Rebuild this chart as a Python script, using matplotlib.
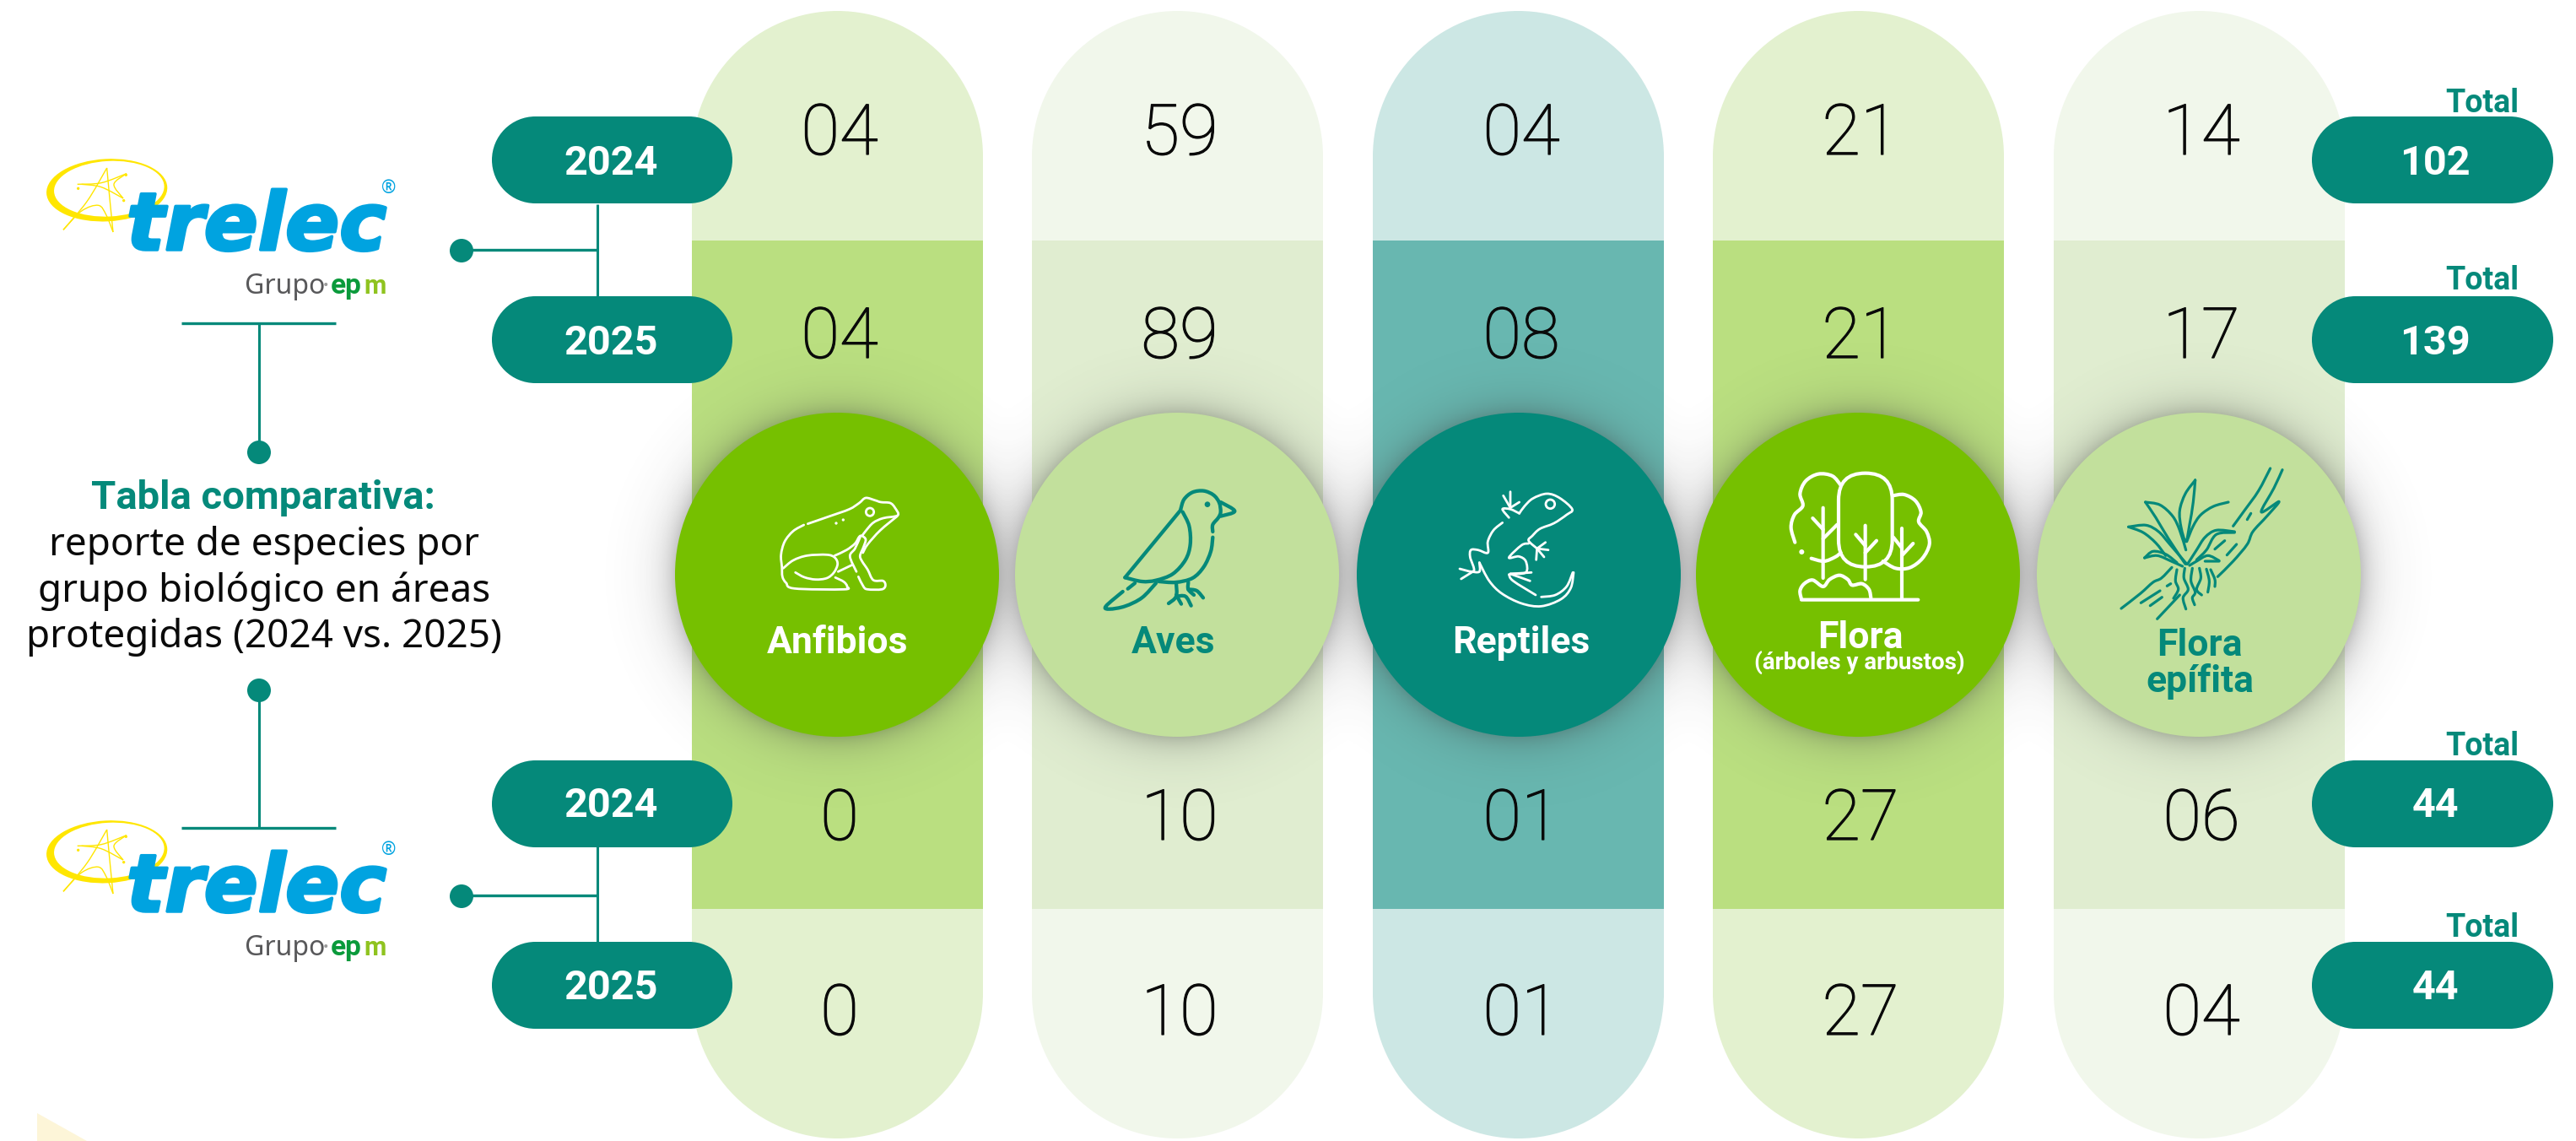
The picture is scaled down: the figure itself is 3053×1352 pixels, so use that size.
#!/usr/bin/env python3
"""Tabla comparativa: especies por grupo biologico en areas protegidas."""

import numpy as np
import matplotlib
matplotlib.use("Agg")
import matplotlib.pyplot as plt
import matplotlib.patheffects as pe
from matplotlib.path import Path
from matplotlib.patches import Circle, Ellipse, FancyBboxPatch, PathPatch, Polygon, Rectangle

W, H = 3053, 1352

TEAL = "#05897A"
GREEN = "#76C000"
PALE = "#C2E09C"
BLACK = "#0A0A0A"

GROUPS = ["Anfibios", "Aves", "Reptiles", "Flora", "Flora epífita"]
YEARS = ["2024", "2025", "2024", "2025"]
AREA1_2024 = ["04", "59", "04", "21", "14"]
AREA1_2025 = ["04", "89", "08", "21", "17"]
AREA2_2024 = ["0", "10", "01", "27", "06"]
AREA2_2025 = ["0", "10", "01", "27", "04"]
TOTALS = ["102", "139", "44", "44"]
ROWS = [AREA1_2024, AREA1_2025, AREA2_2024, AREA2_2025]

COL_LEFT = [820, 1223, 1627, 2030, 2434]
COL_W = 345
CIRCLE_X = [992, 1395, 1800, 2202, 2606]
CIRCLE_Y = 681
CIRCLE_R = 192
LIGHT = ["#E3F1CF", "#F1F7EB", "#CCE7E4", "#E3F1CF", "#F1F7EB"]
MID = ["#BADF80", "#E0EDD0", "#68B7B0", "#BADF80", "#E0EDD0"]
DISC = [GREEN, PALE, TEAL, GREEN, PALE]

ROW_BASE = [183, 424, 995, 1226]
PILL_TOP = [138, 351, 901, 1116]
PILL_BASE = [207, 420, 968, 1184]
TOTAL_BASE = [133, 343, 895, 1110]

plt.rcParams["font.family"] = ["Noto Sans", "DejaVu Sans"]

fig = plt.figure(figsize=(W / 100, H / 100), dpi=100, facecolor="white")
ax = fig.add_axes([0, 0, 1, 1])


def curve(pts, origin, closed=False, scale=3.0):
    """Smooth line through zoomed icon points (Catmull-Rom to bezier)."""
    p = np.array(pts, dtype=float) / scale + np.array(origin)
    if closed:
        p = np.vstack([p, p[0]])
    verts = [p[0]]
    codes = [Path.MOVETO]
    n = len(p)
    for i in range(n - 1):
        p0 = p[i - 1] if i > 0 else p[i]
        p1, p2 = p[i], p[i + 1]
        p3 = p[i + 2] if i + 2 < n else p[i + 1]
        verts += [p1 + (p2 - p0) / 6, p2 - (p3 - p1) / 6, p2]
        codes += [Path.CURVE4] * 3
    return Path(verts, codes)


def icon(paths, origin, color, lw):
    for pts in paths:
        ax.add_patch(PathPatch(curve(pts, origin), fc="none", ec=color, lw=lw,
                               capstyle="round", joinstyle="round", zorder=8))


def dot(x, y, r, origin, color, ring=None):
    c = (origin[0] + x / 3, origin[1] + y / 3)
    if ring:
        ax.add_patch(Circle(c, r / 3, fc="none", ec=color, lw=ring, zorder=8))
    else:
        ax.add_patch(Circle(c, r / 3, fc=color, ec="none", zorder=8))


def capsule(x0, y0, w, h, color, zorder):
    """Rectangle with true half circles on its two short sides."""
    r = min(w, h) / 2
    if w > h:
        ax.add_patch(Rectangle((x0 + r, y0), w - 2 * r, h, fc=color, ec="none", zorder=zorder))
        ends = [(x0 + r, y0 + r), (x0 + w - r, y0 + r)]
    else:
        ax.add_patch(Rectangle((x0, y0 + r), w, h - 2 * r, fc=color, ec="none", zorder=zorder))
        ends = [(x0 + r, y0 + r), (x0 + r, y0 + h - r)]
    for c in ends:
        ax.add_patch(Circle(c, r, fc=color, ec="none", zorder=zorder))


def label(x, y, s, size, color, weight="normal", **kw):
    if weight == "bold" and "family" not in kw:
        kw["family"] = ["Roboto", "DejaVu Sans"]
    return ax.text(x, y, s, fontsize=size, color=color, fontweight=weight,
                   ha=kw.pop("ha", "center"), va="baseline", zorder=kw.pop("zorder", 9), **kw)


# Columns
for i in range(5):
    capsule(COL_LEFT[i], 13, COL_W, 1336, LIGHT[i], 1)
    ax.add_patch(Rectangle((COL_LEFT[i], 285), COL_W, 792, fc=MID[i], ec="none", zorder=2))

# Soft shadows behind the discs, all under the discs themselves
yy, xx = np.mgrid[0:H, 0:W]
alpha = np.zeros((H, W))
for cx in CIRCLE_X:
    d = np.hypot(xx - cx, yy - CIRCLE_Y) - CIRCLE_R
    a = 0.28 * np.exp(-np.clip(d, 0, None) / 18.0) + 0.015 * np.clip(1 - d / 90.0, 0, 1)
    alpha = 1 - (1 - alpha) * (1 - a)
shadow = np.zeros((H, W, 4))
shadow[..., :3] = 0.22
shadow[..., 3] = alpha
ax.imshow(shadow, extent=(0, W, H, 0), zorder=3, interpolation="bilinear")

for i in range(5):
    ax.add_patch(Circle((CIRCLE_X[i], CIRCLE_Y), CIRCLE_R, fc=DISC[i], ec="none", zorder=4))

# Values
for base, row in zip(ROW_BASE, ROWS):
    for i, val in enumerate(row):
        t = label(CIRCLE_X[i] + 3, base, val, 60, BLACK, weight="light", zorder=5,
                  family=["Roboto", "DejaVu Sans"])
        t.set_path_effects([pe.withStroke(linewidth=0.9, foreground=BLACK)])

# Year and total pills
for k in range(4):
    capsule(583, PILL_TOP[k], 285, 103, TEAL, 6)
    label(724, PILL_BASE[k], YEARS[k], 35, "white", weight="bold", zorder=7)
    capsule(2740, PILL_TOP[k], 286, 103, TEAL, 6)
    label(2886, PILL_BASE[k], TOTALS[k], 35, "white", weight="bold", zorder=7)
    label(2985, TOTAL_BASE[k], "Total", 27, TEAL, weight="bold", ha="right")

# Group names
label(993, 774, "Anfibios", 32, "white", weight="bold")
label(1391, 774, "Aves", 32, TEAL, weight="bold")
label(1803, 774, "Reptiles", 32, "white", weight="bold")
label(2205, 768, "Flora", 32, "white", weight="bold")
label(2204, 793, "(árboles y arbustos)", 20, "white", weight="bold")
label(2607, 777, "Flora", 32, TEAL, weight="bold")
label(2607, 820, "epífita", 32, TEAL, weight="bold")

# Side caption
label(312, 603, "Tabla comparativa:", 34, TEAL, weight="bold")
label(313, 658, "reporte de especies por", 33, BLACK)
label(313, 713, "grupo biológico en áreas", 33, BLACK)
label(313, 767, "protegidas (2024 vs. 2025)", 33, BLACK)

# Connectors
for y0, y1, yh in [(242, 351, 296), (1003, 1116, 1061)]:
    ax.plot([708, 708], [y0, y1], color=TEAL, lw=2.2, solid_capstyle="butt", zorder=5)
    ax.plot([547, 708], [yh, yh], color=TEAL, lw=2.4, solid_capstyle="butt", zorder=5)
    ax.add_patch(Circle((547, yh + 1), 14, fc=TEAL, ec="none", zorder=5))
ax.plot([215, 398], [383, 383], color=TEAL, lw=2.4, solid_capstyle="butt", zorder=5)
ax.plot([307, 307], [383, 536], color=TEAL, lw=2.2, solid_capstyle="butt", zorder=5)
ax.add_patch(Circle((307, 536), 14, fc=TEAL, ec="none", zorder=5))
ax.plot([215, 398], [981, 981], color=TEAL, lw=2.4, solid_capstyle="butt", zorder=5)
ax.plot([307, 307], [818, 981], color=TEAL, lw=2.2, solid_capstyle="butt", zorder=5)
ax.add_patch(Circle((307, 818), 14, fc=TEAL, ec="none", zorder=5))

# Corner triangle
ax.add_patch(Polygon([(44, 1319), (44, 1352), (103, 1352)], fc="#FDF5D8", ec="none", zorder=1))


def logo(dy):
    org = (40, 175 + dy)
    yellow = "#FFE600"
    ax.add_patch(Ellipse((org[0] + 260 / 3, org[1] + 151 / 3), 430 / 3, 222 / 3, angle=-3,
                         fc=yellow, ec="none", zorder=5))
    ax.add_patch(Ellipse((org[0] + 268 / 3, org[1] + 146 / 3), 392 / 3, 197 / 3, angle=-3,
                         fc="white", ec="none", zorder=5))
    star = [
        [(260, 72), (270, 180), (282, 300)],
        [(260, 72), (190, 190), (105, 292)],
        [(155, 130), (240, 125), (330, 92)],
        [(330, 92), (285, 130), (318, 180)],
        [(170, 130), (240, 140), (318, 180)],
        [(105, 292), (170, 225), (230, 205), (258, 240), (282, 300)],
    ]
    for pts in star:
        ax.add_patch(PathPatch(curve(pts, org), fc="none", ec=yellow, lw=1.0, zorder=5))
    for x, y in [(158, 145), (328, 97), (320, 188)]:
        dot(x, y, 5, org, yellow)
    t = ax.text(150, 296 + dy, "trelec", fontsize=68, fontweight="bold", style="italic",
                family=["DejaVu Sans"], color="#00A3E0", ha="left", va="baseline", zorder=6)
    t.set_path_effects([pe.withStroke(linewidth=2.5, foreground="#00A3E0")])
    label(461, 229 + dy, "®", 15, "#00A3E0")
    label(290, 348 + dy, "Grupo", 23, "#58585A", ha="left")
    label(386, 348 + dy, "·", 23, "#9A9A9A")
    label(392, 348 + dy, "ep", 24, "#0A9A3B", weight="bold", ha="left")
    label(431, 348 + dy, "m", 22, "#8FC31F", weight="bold", ha="left")


logo(0)
logo(784)

# Icons in crop pixels
FROG = [
    [(172, 152), (250, 125), (320, 100), (355, 78), (378, 60), (410, 68), (432, 75), (465, 78),
     (482, 95), (492, 122), (440, 132), (405, 148), (380, 175), (365, 195)],
    [(158, 156), (120, 178), (90, 215), (77, 262), (80, 305), (82, 340), (95, 362), (125, 382),
     (300, 385), (312, 375), (300, 358), (270, 343)],
    [(85, 310), (120, 282), (170, 265), (240, 262), (268, 272), (278, 295), (265, 325), (240, 345),
     (200, 350), (160, 342), (128, 325)],
    [(268, 265), (310, 245), (340, 222), (355, 198), (365, 195), (378, 208), (370, 235), (358, 265),
     (365, 285), (385, 315), (405, 352), (440, 355), (448, 372), (435, 385), (385, 385), (370, 375),
     (352, 340)],
    [(358, 200), (340, 240), (322, 268), (345, 322)],
    [(490, 125), (430, 175), (385, 225), (368, 255)],
    [(280, 322), (330, 298)],
]
icon(FROG, (900, 570), "white", 2.0)
dot(393, 110, 14, (900, 570), "white", ring=2.0)
dot(273, 150, 5, (900, 570), "white")
dot(298, 138, 5, (900, 570), "white")

BIRD = [
    [(328, 115), (340, 80), (370, 55), (410, 50), (445, 65), (465, 92), (470, 125), (462, 145),
     (442, 170), (442, 195)],
    [(328, 118), (130, 358)],
    [(335, 125), (358, 175), (362, 240), (345, 295), (300, 345), (240, 368), (190, 372), (130, 358)],
    [(442, 215), (435, 265), (410, 320), (370, 360), (310, 375), (250, 372)],
    [(470, 90), (520, 122), (470, 140)],
    [(165, 378), (140, 398)],
    [(122, 408), (62, 460), (75, 470), (130, 460), (190, 430), (240, 378)],
    [(312, 378), (312, 425), (285, 450)],
    [(312, 420), (330, 452)],
    [(312, 425), (345, 425), (365, 458)],
    [(355, 375), (355, 400), (375, 420)],
    [(355, 400), (385, 405), (408, 430)],
]
icon(BIRD, (1290, 565), TEAL, 3.1)
dot(423, 98, 10, (1290, 565), TEAL)

LIZARD = [
    [(272, 115), (290, 90), (320, 62), (370, 45), (415, 60), (460, 100), (440, 120), (395, 150),
     (345, 170), (318, 195), (305, 212), (335, 240)],
    [(335, 240), (375, 245)],
    [(335, 240), (365, 218)],
    [(335, 240), (360, 270)],
    [(335, 238), (332, 280)],
    [(305, 222), (280, 228), (235, 272), (270, 268), (295, 285), (295, 325), (240, 330)],
    [(240, 330), (315, 325)],
    [(240, 330), (310, 355)],
    [(235, 332), (250, 355), (330, 405)],
    [(130, 290), (165, 355), (210, 400), (280, 435), (350, 445), (420, 420), (455, 380), (465, 325)],
    [(350, 412), (400, 405), (440, 375), (462, 325)],
    [(212, 148), (180, 175), (160, 215), (160, 255), (125, 245), (100, 245), (97, 270), (110, 320),
     (60, 312)],
    [(110, 320), (65, 348)],
    [(130, 290), (130, 322), (100, 322)],
    [(272, 115), (240, 100), (212, 100), (235, 130)],
    [(240, 95), (240, 38)],
    [(240, 95), (215, 52)],
    [(240, 95), (272, 75)],
]
icon(LIZARD, (1710, 570), "white", 2.0)
dot(382, 82, 16, (1710, 570), "white", ring=2.0)

TREES = [
    [(245, 75), (215, 42), (165, 35), (120, 60), (100, 105), (110, 148), (80, 180), (68, 225),
     (82, 278)],
    [(140, 335), (185, 345), (225, 330), (245, 315)],
    [(182, 155), (182, 405)],
    [(145, 192), (182, 232)],
    [(182, 265), (232, 215)],
    [(332, 218), (332, 410)],
    [(298, 250), (332, 290)],
    [(332, 315), (372, 272)],
    [(430, 112), (470, 108), (510, 130), (530, 170), (522, 205), (550, 240), (560, 285), (535, 335),
     (490, 368), (440, 370), (395, 345)],
    [(462, 228), (462, 480)],
    [(432, 260), (462, 298)],
    [(462, 325), (502, 282)],
    [(105, 480), (100, 450), (115, 425), (145, 412), (182, 435), (205, 410), (240, 395), (270, 410),
     (285, 430), (320, 425), (345, 445), (352, 475)],
    [(105, 482), (520, 482)],
]
icon(TREES, (2100, 550), "white", 3.0)
ax.add_patch(FancyBboxPatch((2100 + 237 / 3, 550 + 32 / 3), 191 / 3, 333 / 3,
                            boxstyle=f"round,pad=0,rounding_size={95 / 3}",
                            fc="none", ec="white", lw=3.0, zorder=8))
dot(106, 312, 9, (2100, 550), "white")

EPIPHYTE = [
    [(572, 30), (530, 110), (480, 180), (440, 235)],
    [(615, 35), (585, 100), (540, 185), (603, 148), (560, 200), (510, 255), (490, 300), (440, 360),
     (385, 415)],
    [(170, 565), (250, 480)],
    [(42, 528), (110, 475), (155, 435), (185, 420), (222, 382)],
    [(490, 212), (503, 190)],
    [(375, 317), (410, 287)],
    [(418, 338), (452, 300)],
    [(205, 448), (218, 440)],
    [(112, 508), (180, 465)],
    [(145, 518), (187, 488)],
    [(305, 72), (270, 120), (250, 180), (255, 240), (272, 290), (285, 230), (298, 150), (305, 72)],
    [(128, 150), (180, 160), (225, 200), (250, 250), (272, 320)],
    [(128, 150), (165, 205), (210, 280), (270, 370)],
    [(423, 150), (370, 165), (325, 195), (298, 235), (275, 290)],
    [(68, 238), (130, 232), (175, 255), (215, 300), (275, 370)],
    [(68, 238), (120, 258), (165, 295), (200, 340)],
    [(445, 255), (380, 250), (340, 275), (310, 320), (278, 370)],
    [(445, 258), (380, 265), (345, 320), (310, 355)],
    [(125, 348), (155, 325), (200, 335), (240, 365)],
    [(125, 348), (170, 340), (220, 360), (260, 378)],
    [(390, 358), (350, 340), (310, 360), (285, 375)],
    [(390, 360), (340, 360)],
    [(240, 390), (235, 430), (245, 460), (228, 492)],
    [(268, 385), (265, 420), (280, 460), (262, 490), (272, 530)],
    [(295, 385), (290, 430), (305, 470), (295, 490), (303, 515)],
    [(320, 385), (325, 420), (310, 460), (328, 480)],
    [(345, 388), (355, 430), (350, 470)],
    [(360, 390), (375, 425), (375, 450)],
]
icon(EPIPHYTE, (2500, 545), TEAL, 2.3)

ax.set_xlim(0, W)
ax.set_ylim(H, 0)
ax.axis("off")

fig.savefig("out.png", dpi=100, facecolor="white")
